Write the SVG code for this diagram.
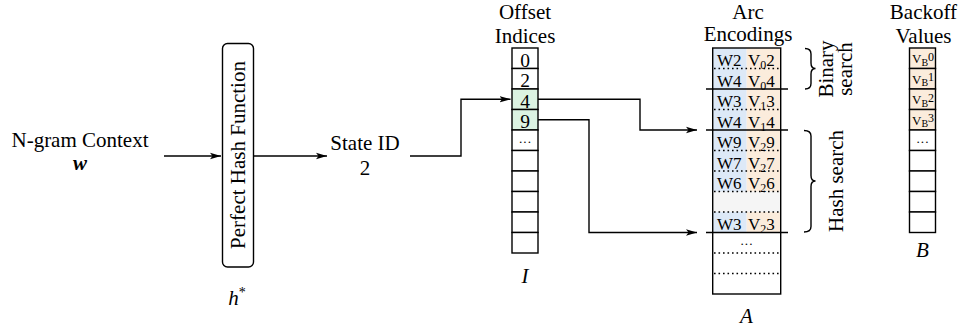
<svg xmlns="http://www.w3.org/2000/svg" width="961" height="331" viewBox="0 0 961 331">
<defs>
<marker id="arr" markerUnits="userSpaceOnUse" markerWidth="12" markerHeight="8" refX="11" refY="4" orient="auto">
<path d="M0,0.8 L11,4 L0,7.2 L2.5,4 Z" fill="#000"/>
</marker>
</defs>
<style>
text{font-family:"Liberation Serif","Times New Roman",serif;fill:#000}
.lbl{font-size:21px;text-anchor:middle}
.it{font-style:italic}
.cell{fill:#fff;stroke:#000;stroke-width:1.4}
.blue{fill:#dde9f7}
.orange{fill:#fbecdc}
.grey{fill:#f5f5f5}
.dig{font-size:19.5px;text-anchor:middle}
.enc{font-size:17px}
.ell{font-size:13px;text-anchor:middle}
.dot{stroke:#000;stroke-width:1.6;stroke-dasharray:1.6 2.9;fill:none}
.sol{stroke:#000;stroke-width:1.4;fill:none}
.con{stroke:#000;stroke-width:1.4;fill:none}
.bo{font-size:13px}
</style>

<g id="input">
<text class="lbl" x="80" y="147">N-gram Context</text>
<text class="lbl it" x="80" y="170" font-weight="bold">w</text>
</g>

<g id="phf">
<rect x="222.5" y="43.5" width="31" height="223.5" rx="5" ry="5" fill="#fff" stroke="#000" stroke-width="1.4"/>
<text class="lbl" transform="translate(245,155) rotate(-90)">Perfect Hash Function</text>
<text class="lbl it" x="237" y="305">h<tspan font-style="normal" font-size="14" dy="-8">*</tspan></text>
</g>

<g id="state">
<text class="lbl" x="365" y="150">State ID</text>
<text class="lbl" x="365" y="175">2</text>
</g>

<g id="offsets">
<text class="lbl" x="525" y="18.5">Offset</text>
<text class="lbl" x="525" y="42.5">Indices</text>
<rect class="cell" x="512" y="48" width="26" height="20.5"/>
<rect class="cell" x="512" y="68.5" width="26" height="20.5"/>
<rect class="cell" x="512" y="89" width="26" height="20.5" style="fill:#dcf3e2"/>
<rect class="cell" x="512" y="109.5" width="26" height="20.5" style="fill:#dcf3e2"/>
<rect class="cell" x="512" y="130" width="26" height="20.5"/>
<rect class="cell" x="512" y="150.5" width="26" height="20.5"/>
<rect class="cell" x="512" y="171" width="26" height="20.5"/>
<rect class="cell" x="512" y="191.5" width="26" height="20.5"/>
<rect class="cell" x="512" y="212" width="26" height="20.5"/>
<rect class="cell" x="512" y="232.5" width="26" height="20.5"/>
<text class="dig" x="525" y="66.5">0</text>
<text class="dig" x="525" y="87">2</text>
<text class="dig" x="525" y="107.5">4</text>
<text class="dig" x="525" y="128">9</text>
<text class="ell" x="525" y="146">···</text>
<text class="lbl it" x="525" y="283">I</text>
</g>

<g id="arcs">
<text class="lbl" x="748" y="18.5">Arc</text>
<text class="lbl" x="748" y="41" font-size="20">Encodings</text>
<rect class="blue" x="712.7" y="48" width="34" height="184.5"/>
<rect class="orange" x="746.7" y="48" width="34" height="184.5"/>
<rect class="grey" x="712.7" y="191.5" width="68" height="20.5"/>
<rect x="712.7" y="48" width="68" height="246" fill="none" stroke="#000" stroke-width="1.4"/>
<line class="dot" x1="714" y1="68.5" x2="780" y2="68.5"/>
<line class="dot" x1="714" y1="109.5" x2="780" y2="109.5"/>
<line class="dot" x1="714" y1="150.5" x2="780" y2="150.5"/>
<line class="dot" x1="714" y1="171" x2="780" y2="171"/>
<line class="dot" x1="714" y1="191.5" x2="780" y2="191.5"/>
<line class="dot" x1="714" y1="212" x2="780" y2="212"/>
<line class="dot" x1="714" y1="253" x2="780" y2="253"/>
<line class="dot" x1="714" y1="273.5" x2="780" y2="273.5"/>
<line class="sol" x1="706" y1="89" x2="788" y2="89"/>
<line class="sol" x1="706" y1="130" x2="788" y2="130"/>
<line class="sol" x1="706" y1="232.5" x2="788" y2="232.5"/>
<g class="enc">
<text x="717" y="66">W2</text><text x="748" y="66">V<tspan font-size="12" dy="3">0</tspan><tspan dy="-3">2</tspan></text>
<text x="717" y="86.5">W4</text><text x="748" y="86.5">V<tspan font-size="12" dy="3">0</tspan><tspan dy="-3">4</tspan></text>
<text x="717" y="107">W3</text><text x="748" y="107">V<tspan font-size="12" dy="3">1</tspan><tspan dy="-3">3</tspan></text>
<text x="717" y="127.5">W4</text><text x="748" y="127.5">V<tspan font-size="12" dy="3">1</tspan><tspan dy="-3">4</tspan></text>
<text x="717" y="148">W9</text><text x="748" y="148">V<tspan font-size="12" dy="3">2</tspan><tspan dy="-3">9</tspan></text>
<text x="717" y="168.5">W7</text><text x="748" y="168.5">V<tspan font-size="12" dy="3">2</tspan><tspan dy="-3">7</tspan></text>
<text x="717" y="189">W6</text><text x="748" y="189">V<tspan font-size="12" dy="3">2</tspan><tspan dy="-3">6</tspan></text>
<text x="717" y="230">W3</text><text x="748" y="230">V<tspan font-size="12" dy="3">2</tspan><tspan dy="-3">3</tspan></text>
</g>
<text class="ell" x="746.5" y="248">···</text>
<text class="lbl it" x="746.5" y="323">A</text>
</g>

<g id="binary-search">
<path d="M805,48.5 Q811,48.5 811,54 L811,63 Q811,68.5 815.5,68.5 Q811,68.5 811,74 L811,83.5 Q811,89 805,89" class="sol" stroke-width="1.3"/>
<text class="lbl" transform="translate(833,69) rotate(-90)">Binary</text>
<text class="lbl" transform="translate(851.5,69) rotate(-90)">search</text>
</g>

<g id="hash-search">
<path d="M804,130.5 Q811,130.5 811,136 L811,175.5 Q811,181 815.5,181 Q811,181 811,186.5 L811,226.5 Q811,232 804,232" class="sol" stroke-width="1.3"/>
<text class="lbl" transform="translate(842.5,181) rotate(-90)">Hash search</text>
</g>

<g id="backoff">
<text class="lbl" x="923.5" y="18.5">Backoff</text>
<text class="lbl" x="923.5" y="42.5">Values</text>
<rect class="cell" x="909.5" y="48" width="26" height="20.5" style="fill:#fbecdc"/>
<rect class="cell" x="909.5" y="68.5" width="26" height="20.5" style="fill:#fbecdc"/>
<rect class="cell" x="909.5" y="89" width="26" height="20.5" style="fill:#fbecdc"/>
<rect class="cell" x="909.5" y="109.5" width="26" height="20.5" style="fill:#fbecdc"/>
<rect class="cell" x="909.5" y="130" width="26" height="20.5"/>
<rect class="cell" x="909.5" y="150.5" width="26" height="20.5"/>
<rect class="cell" x="909.5" y="171" width="26" height="20.5"/>
<rect class="cell" x="909.5" y="191.5" width="26" height="20.5"/>
<rect class="cell" x="909.5" y="212" width="26" height="20.5"/>
<text class="bo" x="912" y="63">V<tspan font-size="10" dy="2.5">B</tspan><tspan font-size="12" dy="-5">0</tspan></text>
<text class="bo" x="912" y="83.5">V<tspan font-size="10" dy="2.5">B</tspan><tspan font-size="12" dy="-5">1</tspan></text>
<text class="bo" x="912" y="104">V<tspan font-size="10" dy="2.5">B</tspan><tspan font-size="12" dy="-5">2</tspan></text>
<text class="bo" x="912" y="124.5">V<tspan font-size="10" dy="2.5">B</tspan><tspan font-size="12" dy="-5">3</tspan></text>
<text class="ell" x="922.5" y="146">···</text>
<text class="lbl it" x="922.5" y="257">B</text>
</g>

<g id="connectors">
<path class="con" d="M164,156 H221" marker-end="url(#arr)"/>
<path class="con" d="M254,156 H327" marker-end="url(#arr)"/>
<path class="con" d="M410,156 H461 V99.25 H510.5" marker-end="url(#arr)"/>
<path class="con" d="M538,99.25 H640 V130 H697" marker-end="url(#arr)"/>
<path class="con" d="M538,119.75 H589 V232.5 H697" marker-end="url(#arr)"/>
</g>
</svg>
